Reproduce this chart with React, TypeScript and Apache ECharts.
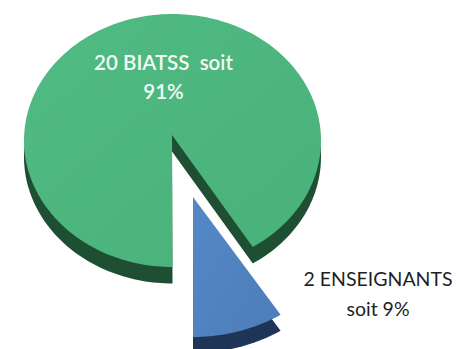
import React, { useEffect, useRef } from "react";
import * as echarts from "echarts";

const categories = ["BIATSS", "ENSEIGNANTS"];
const counts = [20, 2];
const labelLines = [
  ["20 BIATSS  soit", "91%"],
  ["2 ENSEIGNANTS", "soit 9%"],
];
const topColors = [
  ["#50BB83", "#49B17A"],
  ["#5488C6", "#4D7DB9"],
];
const sideColors = ["#1E4F33", "#1E3558"];
const labelColors = ["#F4FBF0", "#1F1F1F"];

const total = counts.reduce((a, b) => a + b, 0);

// Tilted-disc geometry of each slice: rim ellipse, apex, extrusion depth, text anchor
const geometry = [
  { cx: 172.5, cy: 140.5, rx: 148.5, ry: 126.5, ax: 172, ay: 135, depth: 16.5, tx: 163.5, ty: [62, 91], size: 20.5, weight: 600 },
  { cx: 193, cy: 197, rx: 162, ry: 140, ax: 193, ay: 197, depth: 16, tx: 378, ty: [278, 308], size: 19.5, weight: 400 },
];

function slicePoints(i: number, dy: number) {
  const before = counts.slice(0, i).reduce((a, b) => a + b, 0);
  const start = (before / total) * Math.PI * 2;
  const end = ((before + counts[i]) / total) * Math.PI * 2;
  const g = geometry[i];
  const pts: number[][] = [[g.ax, g.ay + dy]];
  const steps = Math.max(8, Math.round(((end - start) / (Math.PI * 2)) * 240));
  for (let s = 0; s <= steps; s++) {
    const t = start + ((end - start) * s) / steps;
    pts.push([g.cx - g.rx * Math.sin(t), g.cy + g.ry * Math.cos(t) + dy]);
  }
  return pts;
}

export default function App() {
  const ref = useRef<HTMLDivElement>(null);
  useEffect(() => {
    document.body.style.margin = "0";
    const chart = echarts.init(ref.current!, null, { renderer: "svg" });
    chart.setOption({
      animation: false,
      backgroundColor: "#ffffff",
      series: [
        {
          type: "custom",
          coordinateSystem: "none",
          silent: true,
          data: categories.map((name, i) => ({ name, value: counts[i] })),
          renderItem: (params: any) => {
            const i = params.dataIndex;
            const g = geometry[i];
            return {
              type: "group",
              children: [
                {
                  type: "polygon",
                  shape: { points: slicePoints(i, g.depth) },
                  style: { fill: sideColors[i] },
                },
                {
                  type: "polygon",
                  shape: { points: slicePoints(i, 0) },
                  style: {
                    fill: new echarts.graphic.LinearGradient(0, 0, 1, 1, [
                      { offset: 0, color: topColors[i][0] },
                      { offset: 1, color: topColors[i][1] },
                    ]),
                  },
                },
                ...labelLines[i].map((line, k) => ({
                  type: "text",
                  x: g.tx,
                  y: g.ty[k],
                  style: {
                    text: line,
                    fill: labelColors[i],
                    font: `${g.weight} ${g.size}px Lato, sans-serif`,
                    align: "center",
                    verticalAlign: "middle",
                  },
                })),
              ],
            };
          },
        },
      ],
    });
    return () => chart.dispose();
  }, []);
  return <div ref={ref} style={{ width: 457, height: 349 }} />;
}
